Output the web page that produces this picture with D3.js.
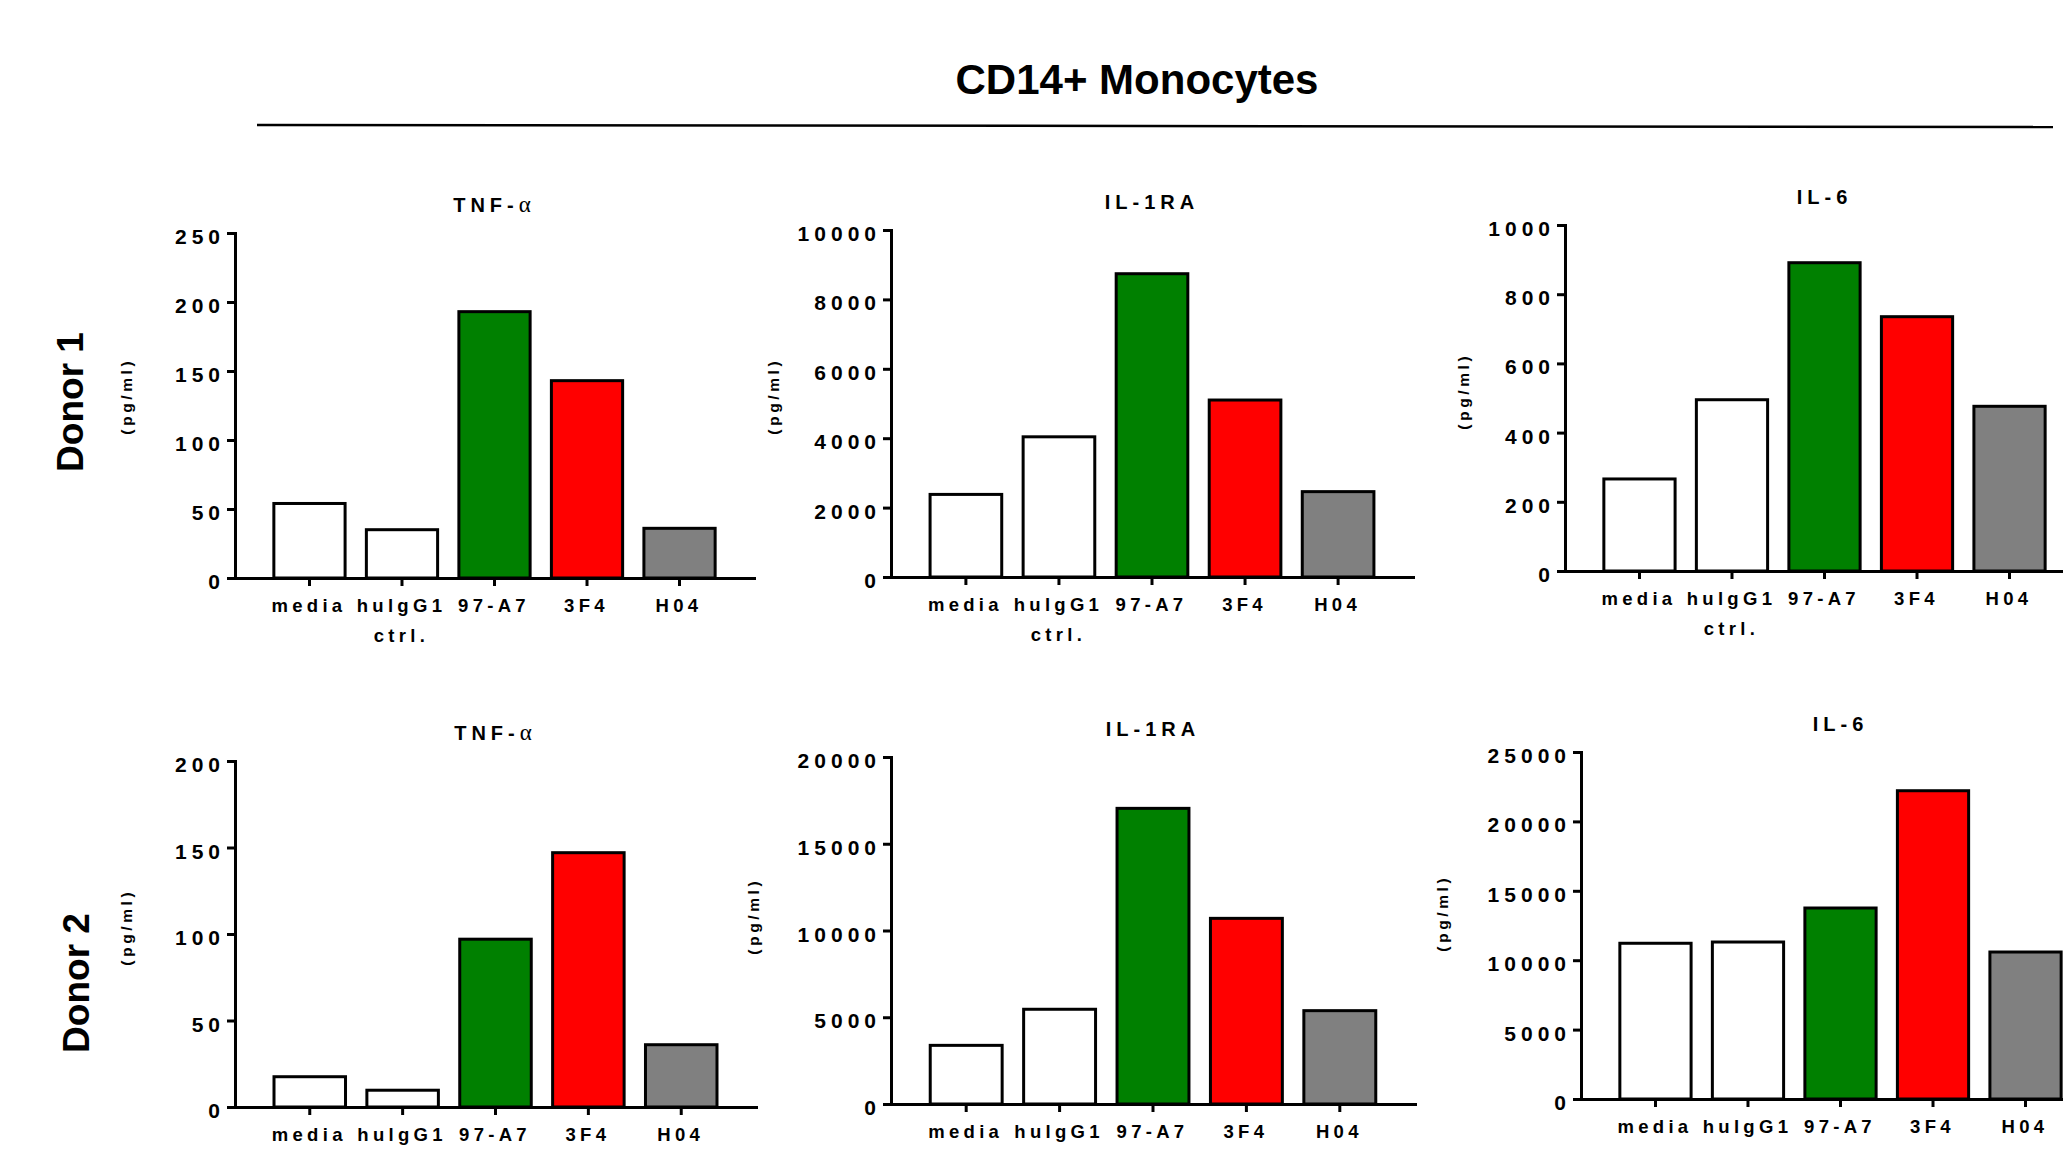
<!DOCTYPE html>
<html>
<head>
<meta charset="utf-8">
<script src="https://cdn.jsdelivr.net/npm/d3@7"></script>
<style>
body { margin: 0; background: #fff; }
svg text { font-family: "Liberation Sans", Arial, sans-serif; font-weight: bold; fill: #000; }
</style>
</head>
<body>
<svg id="fig" width="2063" height="1150"></svg>
<script>
// ---------------- data ----------------
const categories = ["media", "hulgG1", "97-A7", "3F4", "H04"];
const categoryNotes = ["", "ctrl.", "", "", ""];
const donors = ["Donor 1", "Donor 2"];
const cytokines = ["TNF-", "IL-1RA", "IL-6"];

const donor1TNF   = [54, 35, 193, 143, 36];
const donor1IL1RA = [2380, 4040, 8740, 5100, 2460];
const donor1IL6   = [266, 495, 891, 735, 476];
const donor2TNF   = [17.5, 9.7, 97, 147, 36];
const donor2IL1RA = [3380, 5460, 17040, 10700, 5380];
const donor2IL6   = [11220, 11310, 13760, 22210, 10590];

const ticksTNF1   = [0, 50, 100, 150, 200, 250];
const ticksIL1RA1 = [0, 2000, 4000, 6000, 8000, 10000];
const ticksIL61   = [0, 200, 400, 600, 800, 1000];
const ticksTNF2   = [0, 50, 100, 150, 200];
const ticksIL1RA2 = [0, 5000, 10000, 15000, 20000];
const ticksIL62   = [0, 5000, 10000, 15000, 20000, 25000];

// colours of the bars
const barFills = ["#ffffff", "#ffffff", "#008000", "#ff0000", "#808080"];

// ---------------- layout ----------------
var svg = d3.select("#fig");

// each panel: where its axes sit on the page
var panels = [
  {title: 0, values: donor1TNF,   ticks: ticksTNF1,   left: 235,  right: 754,  top: 233, zero: 578,  unitX: 127,  unitY: 398},
  {title: 1, values: donor1IL1RA, ticks: ticksIL1RA1, left: 891,  right: 1413, top: 230, zero: 577,  unitX: 774,  unitY: 398},
  {title: 2, values: donor1IL6,   ticks: ticksIL61,   left: 1565, right: 2084, top: 225, zero: 571,  unitX: 1464, unitY: 393},
  {title: 0, values: donor2TNF,   ticks: ticksTNF2,   left: 235,  right: 756,  top: 761, zero: 1107, unitX: 127,  unitY: 929},
  {title: 1, values: donor2IL1RA, ticks: ticksIL1RA2, left: 891,  right: 1415, top: 757, zero: 1104, unitX: 754,  unitY: 918},
  {title: 2, values: donor2IL6,   ticks: ticksIL62,   left: 1581, right: 2100, top: 752, zero: 1099, unitX: 1443, unitY: 915}
];

// main title + rule
svg.append("text")
  .attr("x", 1137).attr("y", 94)
  .attr("text-anchor", "middle")
  .style("font-size", "42px")
  .text("CD14+ Monocytes");

svg.append("line")
  .attr("x1", 257).attr("y1", 125)
  .attr("x2", 2053).attr("y2", 127)
  .attr("stroke", "#000").attr("stroke-width", 2.5);

// donor labels (rotated)
var donorPos = [[83, 402], [89, 983]];
donors.forEach(function(d, i) {
  svg.append("text")
    .attr("transform", "translate(" + donorPos[i][0] + "," + donorPos[i][1] + ")rotate(-90)")
    .attr("text-anchor", "middle")
    .style("font-size", "37px")
    .text(d);
});

panels.forEach(drawPanel);

function drawPanel(p) {
  var g = svg.append("g");

  var x = d3.scaleBand()
    .domain(categories)
    .range([p.left, p.right])
    .paddingInner(0.23)
    .paddingOuter(0.42);

  var y = d3.scaleLinear()
    .domain([0, d3.max(p.ticks)])
    .range([p.zero, p.top]);

  // bars
  g.selectAll("rect")
    .data(p.values)
    .join("rect")
    .attr("x", function(d, i) { return x(categories[i]); })
    .attr("y", function(d) { return y(d); })
    .attr("width", x.bandwidth())
    .attr("height", function(d) { return y(0) - y(d); })
    .attr("fill", function(d, i) { return barFills[i]; })
    .attr("stroke", "#000")
    .attr("stroke-width", 3);

  // y axis
  var ya = g.append("g")
    .attr("transform", "translate(" + p.left + ",0)")
    .call(d3.axisLeft(y).tickValues(p.ticks).tickSize(8).tickSizeOuter(0).tickFormat(d3.format("d")))
    .attr("font-family", null).attr("font-size", null);
  ya.select(".domain").attr("stroke-width", 3).attr("stroke-linecap", "square");
  ya.selectAll(".tick line").attr("stroke-width", 3);
  ya.selectAll(".tick text")
    .attr("x", -15 + 5)
    .attr("dy", "0.5em")
    .style("font-size", "21px")
    .style("letter-spacing", "5px");

  // x axis
  var xa = g.append("g")
    .attr("transform", "translate(0," + p.zero + ")")
    .call(d3.axisBottom(x).tickSize(8).tickSizeOuter(0))
    .attr("font-family", null).attr("font-size", null);
  xa.select(".domain").attr("stroke-width", 3).attr("stroke-linecap", "square");
  xa.selectAll(".tick line").attr("stroke-width", 3);
  xa.selectAll(".tick text")
    .attr("y", 34).attr("dy", 0).attr("dx", -0.5)
    .style("font-size", "18.5px")
    .style("letter-spacing", "4.3px");
  xa.selectAll(".tick")
    .filter(function(d, i) { return categoryNotes[i] !== ""; })
    .append("text")
    .attr("y", 64).attr("dx", -0.5)
    .attr("text-anchor", "middle")
    .style("font-size", "18.5px")
    .style("letter-spacing", "4.3px")
    .text(function(d) { return categoryNotes[categories.indexOf(d)]; });

  // panel title
  var t = g.append("text")
    .attr("x", (p.left + p.right) / 2)
    .attr("y", p.top - 21)
    .attr("text-anchor", "middle")
    .style("font-size", "20px")
    .style("letter-spacing", "5px")
    .text(cytokines[p.title]);
  if (p.title === 0) {
    t.append("tspan")
      .style("font-family", "'Liberation Serif', serif")
      .style("font-weight", "normal")
      .style("font-size", "23px")
      .text("α");
  }

  // unit label
  g.append("text")
    .attr("transform", "translate(" + p.unitX + "," + p.unitY + ")rotate(-90)")
    .attr("text-anchor", "middle")
    .attr("dy", "0.35em")
    .attr("dx", 1.8)
    .style("font-size", "15.5px")
    .style("letter-spacing", "3.6px")
    .text("(pg/ml)");
}
</script>
</body>
</html>
